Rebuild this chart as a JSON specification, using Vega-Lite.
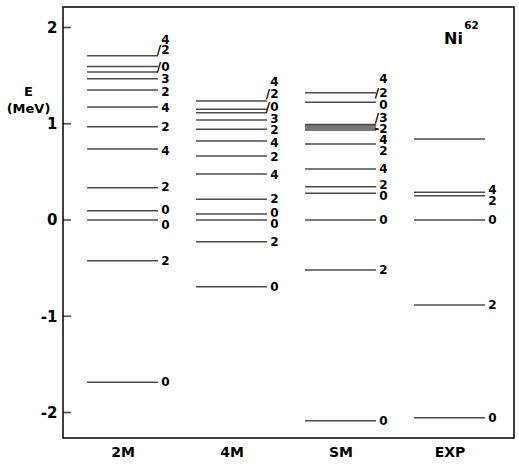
{
  "$schema": "https://vega.github.io/schema/vega-lite/v6.json",
  "width": 451,
  "height": 431,
  "autosize": "none",
  "padding": {"left": 63, "top": 7, "right": 5, "bottom": 26},
  "background": "white",
  "config": {
    "view": {"stroke": "black", "strokeWidth": 1.5},
    "font": "DejaVu Sans"
  },
  "datasets": {
    "levels": [
      {"model": "2M", "E": 1.707, "J": "4", "labelE": 1.87},
      {"model": "2M", "E": 1.595, "J": "/2", "labelE": 1.766},
      {"model": "2M", "E": 1.538, "J": "/0", "labelE": 1.59},
      {"model": "2M", "E": 1.468, "J": "3", "labelE": 1.465},
      {"model": "2M", "E": 1.351, "J": "2", "labelE": 1.335},
      {"model": "2M", "E": 1.174, "J": "4", "labelE": 1.16},
      {"model": "2M", "E": 0.969, "J": "2", "labelE": 0.966},
      {"model": "2M", "E": 0.738, "J": "4", "labelE": 0.717},
      {"model": "2M", "E": 0.336, "J": "2", "labelE": 0.343},
      {"model": "2M", "E": 0.097, "J": "0", "labelE": 0.104},
      {"model": "2M", "E": 0.0, "J": "0", "labelE": -0.052},
      {"model": "2M", "E": -0.423, "J": "2", "labelE": -0.426},
      {"model": "2M", "E": -1.686, "J": "0", "labelE": -1.683},
      {"model": "4M", "E": 1.236, "J": "4", "labelE": 1.43},
      {"model": "4M", "E": 1.15, "J": "/2", "labelE": 1.309},
      {"model": "4M", "E": 1.115, "J": "/0", "labelE": 1.175},
      {"model": "4M", "E": 1.039, "J": "3", "labelE": 1.049},
      {"model": "4M", "E": 0.942, "J": "2", "labelE": 0.93},
      {"model": "4M", "E": 0.821, "J": "4", "labelE": 0.8},
      {"model": "4M", "E": 0.665, "J": "2", "labelE": 0.655},
      {"model": "4M", "E": 0.478, "J": "4", "labelE": 0.47},
      {"model": "4M", "E": 0.215, "J": "2", "labelE": 0.218},
      {"model": "4M", "E": 0.062, "J": "0", "labelE": 0.073},
      {"model": "4M", "E": 0.0, "J": "0", "labelE": -0.042},
      {"model": "4M", "E": -0.225, "J": "2", "labelE": -0.229},
      {"model": "4M", "E": -0.693, "J": "0", "labelE": -0.696},
      {"model": "SM", "E": 1.322, "J": "4", "labelE": 1.46},
      {"model": "SM", "E": 1.223, "J": "/2", "labelE": 1.315},
      {"model": "SM", "E": 0.992, "J": "0", "labelE": 1.19},
      {"model": "SM", "E": 0.977, "J": "/3", "labelE": 1.06},
      {"model": "SM", "E": 0.956, "J": "-2", "labelE": 0.945},
      {"model": "SM", "E": 0.935, "J": "4", "labelE": 0.835},
      {"model": "SM", "E": 0.79, "J": "2", "labelE": 0.72},
      {"model": "SM", "E": 0.53, "J": "4", "labelE": 0.53},
      {"model": "SM", "E": 0.346, "J": "2", "labelE": 0.36},
      {"model": "SM", "E": 0.277, "J": "0", "labelE": 0.245},
      {"model": "SM", "E": 0.0, "J": "0", "labelE": 0.0},
      {"model": "SM", "E": -0.52, "J": "2", "labelE": -0.52},
      {"model": "SM", "E": -2.085, "J": "0", "labelE": -2.085},
      {"model": "EXP", "E": 0.842, "J": "", "labelE": 0.842},
      {"model": "EXP", "E": 0.288, "J": "4", "labelE": 0.31},
      {"model": "EXP", "E": 0.252, "J": "2", "labelE": 0.2},
      {"model": "EXP", "E": 0.0, "J": "0", "labelE": 0.0},
      {"model": "EXP", "E": -0.883, "J": "2", "labelE": -0.883},
      {"model": "EXP", "E": -2.054, "J": "0", "labelE": -2.054}
    ],
    "yticks": [{"E": -2}, {"E": -1}, {"E": 0}, {"E": 1}, {"E": 2}]
  },
  "resolve": {"scale": {"x": "independent"}},
  "layer": [
    {
      "data": {"name": "levels"},
      "mark": {"type": "tick", "orient": "horizontal", "size": 71, "thickness": 1.5, "color": "black"},
      "encoding": {
        "x": {
          "field": "model",
          "type": "nominal",
          "sort": ["2M", "4M", "SM", "EXP"],
          "scale": {"type": "point", "padding": 0.569, "align": 0.48},
          "axis": {
            "title": null,
            "ticks": false,
            "domain": false,
            "labelAngle": 0,
            "labelFont": "DejaVu Sans",
            "labelFontSize": 14,
            "labelFontWeight": "bold",
            "labelColor": "black",
            "labelPadding": 7
          }
        },
        "y": {
          "field": "E",
          "type": "quantitative",
          "scale": {"domain": [-2.265, 2.213], "nice": false, "zero": false},
          "axis": {
            "values": [-2, -1, 0, 1, 2],
            "labelExpr": "'' + datum.value",
            "grid": false,
            "domain": false,
            "ticks": false,
            "labelPadding": 6,
            "labelFont": "DejaVu Sans",
            "labelFontSize": 15,
            "labelFontWeight": "bold",
            "labelColor": "black",
            "title": ["E", "(MeV)"],
            "titleAngle": 0,
            "titleAlign": "center",
            "titleBaseline": "top",
            "titleX": -35,
            "titleY": 78,
            "titleFont": "DejaVu Sans",
            "titleFontSize": 13,
            "titleFontWeight": "bold",
            "titleColor": "black",
            "titleLineHeight": 17
          }
        }
      }
    },
    {
      "data": {"name": "levels"},
      "mark": {"type": "text", "align": "right", "baseline": "middle", "dx": 47, "fontSize": 12, "fontWeight": "bold", "color": "black"},
      "encoding": {
        "x": {"field": "model", "type": "nominal", "sort": ["2M", "4M", "SM", "EXP"], "scale": {"type": "point", "padding": 0.569, "align": 0.48}, "axis": null},
        "y": {"field": "labelE", "type": "quantitative"},
        "text": {"field": "J"}
      }
    },
    {
      "data": {"name": "yticks"},
      "mark": {"type": "tick", "orient": "horizontal", "size": 8, "thickness": 1.6, "color": "black"},
      "encoding": {
        "x": {"datum": 4, "type": "quantitative", "scale": {"domain": [0, 451], "nice": false, "zero": false}, "axis": null},
        "y": {"field": "E", "type": "quantitative"}
      }
    },
    {
      "data": {"values": [{"t": "Ni", "E": 1.88}]},
      "mark": {"type": "text", "align": "center", "baseline": "middle", "fontSize": 16, "fontWeight": "bold", "color": "black", "dx": 4},
      "encoding": {
        "x": {"datum": "EXP", "type": "nominal", "sort": ["2M", "4M", "SM", "EXP"], "scale": {"type": "point", "domain": ["2M", "4M", "SM", "EXP"], "padding": 0.569, "align": 0.48}, "axis": null},
        "y": {"field": "E", "type": "quantitative"},
        "text": {"field": "t"}
      }
    },
    {
      "data": {"values": [{"t": "62", "E": 1.88}]},
      "mark": {"type": "text", "align": "center", "baseline": "middle", "fontSize": 10.5, "fontWeight": "bold", "color": "black", "dx": 22, "dy": -13},
      "encoding": {
        "x": {"datum": "EXP", "type": "nominal", "sort": ["2M", "4M", "SM", "EXP"], "scale": {"type": "point", "domain": ["2M", "4M", "SM", "EXP"], "padding": 0.569, "align": 0.48}, "axis": null},
        "y": {"field": "E", "type": "quantitative"},
        "text": {"field": "t"}
      }
    }
  ]
}
